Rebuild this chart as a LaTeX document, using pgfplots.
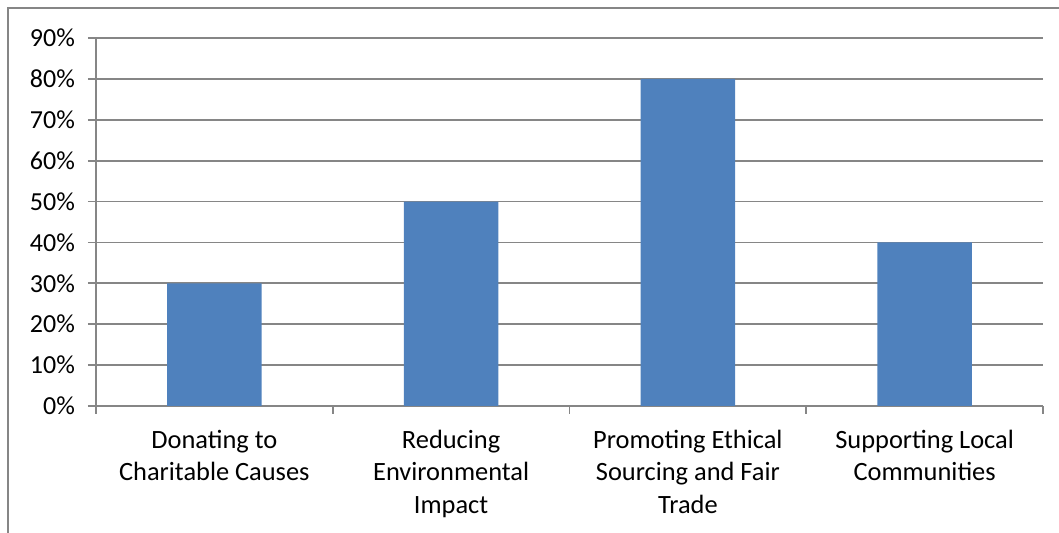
\documentclass[border=0pt]{standalone}
\usepackage{fontspec}
\setmainfont{Carlito}
\usepackage{pgfplots}
\pgfplotsset{compat=1.18}
\definecolor{barblue}{RGB}{79,129,189}
\definecolor{linegray}{RGB}{134,134,134}
\begin{document}
\begin{tikzpicture}[x=1pt,y=1pt]
\useasboundingbox (0pt,0pt) rectangle (529.5pt,266.5pt);
% chart area frame
\draw[linegray, line width=0.6pt] (4pt,0pt) -- (4pt,262.5pt) -- (529.5pt,262.5pt);
\begin{axis}[
  at={(48pt,63.5pt)}, anchor=south west,
  scale only axis, width=473.5pt, height=184pt,
  xmin=-0.5, xmax=3.5, ymin=0, ymax=90,
  axis x line*=bottom, axis y line*=left,
  axis line style={linegray, line width=0.9pt},
  every tick/.style={linegray, line width=0.9pt},
  tick align=outside, major tick length=4pt,
  xtick={0,1,2,3},
  xticklabels={Donating to\\Charitable Causes,
               Reducing\\Environmental\\Impact,
               Promoting Ethical\\Sourcing and Fair\\Trade,
               Supporting Local\\Communities},
  major x tick style={draw=none},
  extra x ticks={-0.5,0.5,1.5,2.5,3.5},
  extra x tick labels={},
  extra x tick style={major x tick style={draw=linegray}, grid=none},
  xticklabel style={align=center, font=\fontsize{13.2}{16.3}\selectfont, yshift=-4.5pt},
  ytick={0,10,20,30,40,50,60,70,80,90},
  yticklabels={0\%,10\%,20\%,30\%,40\%,50\%,60\%,70\%,80\%,90\%},
  yticklabel style={font=\fontsize{13}{16}\selectfont, xshift=-3pt},
  ymajorgrids,
  grid style={linegray, line width=0.9pt},
]
\addplot[ybar, fill=barblue, draw=none, bar width=0.4]
  coordinates {(0,30) (1,50) (2,80) (3,40)};
\end{axis}
\end{tikzpicture}
\end{document}
